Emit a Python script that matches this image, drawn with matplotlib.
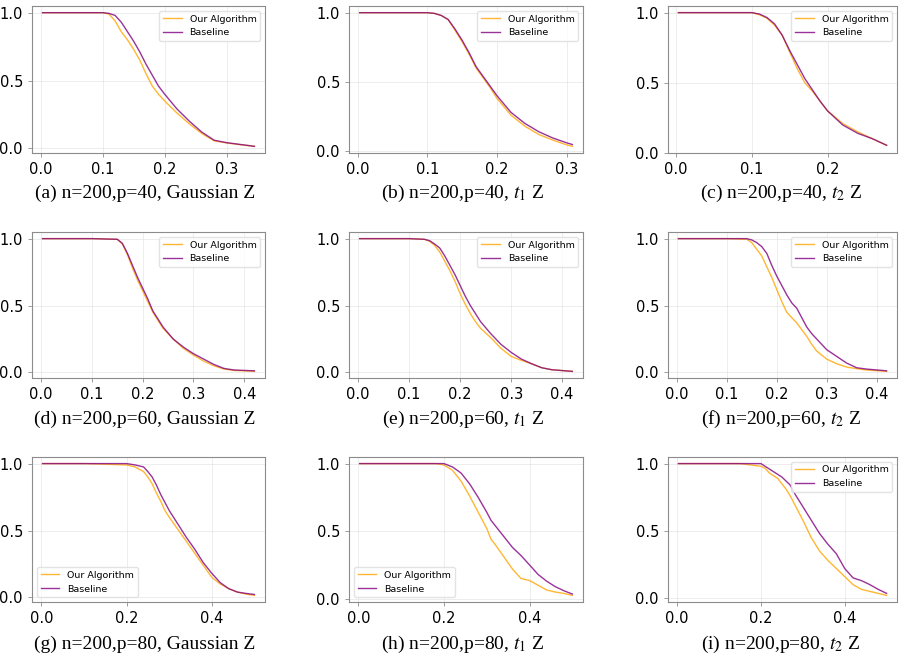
import matplotlib
matplotlib.use("Agg")
import matplotlib.pyplot as plt

# ---- data (x = threshold, y = proportion) ----
X_A = [0.003, 0.05, 0.10, 0.11, 0.12, 0.13, 0.14, 0.15, 0.16, 0.17, 0.18, 0.19, 0.20, 0.22, 0.24, 0.26, 0.28, 0.30, 0.32, 0.345]
OURS_A = [1, 1, 1, 0.99, 0.94, 0.86, 0.80, 0.73, 0.65, 0.55, 0.46, 0.40, 0.35, 0.26, 0.18, 0.11, 0.055, 0.04, 0.028, 0.015]
BASE_A = [1, 1, 1, 0.995, 0.98, 0.93, 0.86, 0.79, 0.71, 0.62, 0.54, 0.46, 0.40, 0.29, 0.20, 0.12, 0.06, 0.042, 0.03, 0.015]

X_B = [0.003, 0.05, 0.10, 0.11, 0.12, 0.13, 0.14, 0.15, 0.16, 0.17, 0.18, 0.19, 0.20, 0.22, 0.24, 0.26, 0.28, 0.30, 0.308]
OURS_B = [1, 1, 1, 0.995, 0.98, 0.95, 0.87, 0.79, 0.70, 0.60, 0.53, 0.46, 0.38, 0.26, 0.18, 0.12, 0.08, 0.045, 0.035]
BASE_B = [1, 1, 1, 0.995, 0.98, 0.95, 0.88, 0.80, 0.71, 0.61, 0.54, 0.47, 0.40, 0.28, 0.20, 0.14, 0.095, 0.06, 0.048]

X_C = [0.003, 0.05, 0.10, 0.11, 0.12, 0.13, 0.14, 0.15, 0.16, 0.17, 0.18, 0.19, 0.20, 0.22, 0.24, 0.26, 0.278]
OURS_C = [1, 1, 1, 0.985, 0.96, 0.91, 0.84, 0.72, 0.60, 0.50, 0.44, 0.37, 0.30, 0.21, 0.15, 0.10, 0.055]
BASE_C = [1, 1, 1, 0.99, 0.965, 0.92, 0.84, 0.73, 0.63, 0.53, 0.45, 0.37, 0.30, 0.20, 0.14, 0.10, 0.055]

X_D = [0.003, 0.05, 0.10, 0.15, 0.16, 0.17, 0.18, 0.19, 0.20, 0.21, 0.22, 0.23, 0.24, 0.26, 0.28, 0.30, 0.32, 0.34, 0.36, 0.38, 0.42]
OURS_D = [1, 1, 1, 0.995, 0.96, 0.88, 0.78, 0.69, 0.61, 0.53, 0.45, 0.39, 0.33, 0.25, 0.18, 0.13, 0.085, 0.05, 0.025, 0.015, 0.008]
BASE_D = [1, 1, 1, 0.995, 0.965, 0.89, 0.80, 0.71, 0.63, 0.55, 0.46, 0.40, 0.34, 0.25, 0.19, 0.14, 0.10, 0.06, 0.03, 0.018, 0.012]

X_E = [0.003, 0.05, 0.10, 0.13, 0.14, 0.15, 0.16, 0.17, 0.18, 0.19, 0.20, 0.21, 0.22, 0.23, 0.24, 0.26, 0.28, 0.30, 0.32, 0.34, 0.36, 0.38, 0.42]
OURS_E = [1, 1, 1, 0.995, 0.98, 0.95, 0.90, 0.83, 0.76, 0.68, 0.59, 0.51, 0.44, 0.38, 0.33, 0.26, 0.18, 0.12, 0.09, 0.065, 0.035, 0.02, 0.008]
BASE_E = [1, 1, 1, 0.995, 0.985, 0.96, 0.93, 0.87, 0.80, 0.73, 0.65, 0.57, 0.50, 0.44, 0.38, 0.29, 0.21, 0.15, 0.10, 0.065, 0.035, 0.02, 0.008]

X_F = [0.003, 0.05, 0.10, 0.14, 0.15, 0.16, 0.17, 0.18, 0.19, 0.20, 0.21, 0.22, 0.23, 0.24, 0.25, 0.26, 0.27, 0.28, 0.30, 0.32, 0.34, 0.36, 0.38, 0.42]
OURS_F = [1, 1, 1, 0.995, 0.97, 0.92, 0.87, 0.79, 0.71, 0.62, 0.53, 0.45, 0.41, 0.37, 0.32, 0.27, 0.21, 0.16, 0.10, 0.065, 0.04, 0.028, 0.018, 0.008]
BASE_F = [1, 1, 1, 1.0, 0.99, 0.97, 0.94, 0.89, 0.80, 0.72, 0.65, 0.58, 0.52, 0.48, 0.41, 0.34, 0.29, 0.25, 0.17, 0.12, 0.07, 0.035, 0.025, 0.012]

X_G = [0.003, 0.1, 0.2, 0.22, 0.24, 0.25, 0.26, 0.27, 0.28, 0.29, 0.30, 0.32, 0.34, 0.36, 0.38, 0.40, 0.42, 0.44, 0.46, 0.48, 0.5]
OURS_G = [1, 1, 0.99, 0.975, 0.94, 0.90, 0.85, 0.78, 0.72, 0.65, 0.60, 0.51, 0.42, 0.33, 0.24, 0.15, 0.10, 0.065, 0.04, 0.025, 0.015]
BASE_G = [1, 1, 1.0, 0.99, 0.975, 0.94, 0.90, 0.84, 0.77, 0.71, 0.65, 0.55, 0.45, 0.36, 0.26, 0.18, 0.11, 0.065, 0.04, 0.03, 0.022]

X_H = [0.003, 0.1, 0.18, 0.20, 0.22, 0.24, 0.26, 0.28, 0.30, 0.31, 0.32, 0.34, 0.36, 0.38, 0.40, 0.42, 0.44, 0.46, 0.48, 0.5]
OURS_H = [1, 1, 1, 0.99, 0.95, 0.87, 0.76, 0.64, 0.52, 0.44, 0.40, 0.31, 0.22, 0.15, 0.135, 0.10, 0.065, 0.05, 0.04, 0.025]
BASE_H = [1, 1, 1, 1.0, 0.975, 0.93, 0.85, 0.75, 0.64, 0.58, 0.54, 0.46, 0.38, 0.32, 0.25, 0.18, 0.13, 0.09, 0.06, 0.035]

X_I = [0.003, 0.1, 0.15, 0.20, 0.21, 0.22, 0.23, 0.24, 0.25, 0.26, 0.27, 0.28, 0.29, 0.30, 0.32, 0.34, 0.36, 0.38, 0.40, 0.42, 0.44, 0.46, 0.48, 0.5]
OURS_I = [1, 1, 1, 0.98, 0.965, 0.93, 0.91, 0.89, 0.85, 0.81, 0.76, 0.70, 0.64, 0.58, 0.45, 0.35, 0.28, 0.22, 0.16, 0.10, 0.065, 0.05, 0.035, 0.02]
BASE_I = [1, 1, 1, 1.0, 0.98, 0.96, 0.94, 0.92, 0.90, 0.87, 0.84, 0.78, 0.73, 0.68, 0.58, 0.48, 0.40, 0.33, 0.22, 0.15, 0.13, 0.10, 0.065, 0.035]

CAPTIONS = [
    "(a) n=200,p=40, Gaussian Z", "(b) n=200,p=40, $t_1$ Z", "(c) n=200,p=40, $t_2$ Z",
    "(d) n=200,p=60, Gaussian Z", "(e) n=200,p=60, $t_1$ Z", "(f) n=200,p=60, $t_2$ Z",
    "(g) n=200,p=80, Gaussian Z", "(h) n=200,p=80, $t_1$ Z", "(i) n=200,p=80, $t_2$ Z",
]
LEGEND_LOC = ["upper right"] * 6 + ["lower left", "lower left", "upper right"]

PANELS = [(X_A, OURS_A, BASE_A), (X_B, OURS_B, BASE_B), (X_C, OURS_C, BASE_C),
          (X_D, OURS_D, BASE_D), (X_E, OURS_E, BASE_E), (X_F, OURS_F, BASE_F),
          (X_G, OURS_G, BASE_G), (X_H, OURS_H, BASE_H), (X_I, OURS_I, BASE_I)]

# ---- layout in pixels ----
W, H = 908, 662
COLS = [(32, 265), (349, 583), (668, 897)]
ROWS = [(6, 153), (232, 378), (457, 602)]
CAP_X = [145, 463, 781]
CAP_Y = [193, 419, 644]

plt.rcParams.update({
    "font.family": "DejaVu Sans",
    "mathtext.fontset": "stix",
    "axes.edgecolor": "#8c8c8c",
    "xtick.color": "#8c8c8c", "ytick.color": "#8c8c8c",
    "xtick.labelcolor": "black", "ytick.labelcolor": "black",
})

fig = plt.figure(figsize=(W / 100, H / 100), dpi=100)

for k, (x, ours, base) in enumerate(PANELS):
    r, c = divmod(k, 3)
    l, rr = COLS[c]
    t, b = ROWS[r]
    ax = fig.add_axes([l / W, 1 - b / H, (rr - l) / W, (b - t) / H])
    ax.plot(x, ours, color="orange", alpha=0.8, lw=1.0, label="Our Algorithm")
    ax.plot(x, base, color="purple", alpha=0.8, lw=1.0, label="Baseline")
    ax.grid(True, color="#dddddd", lw=0.6, alpha=0.6)
    ax.set_yticks([0.0, 0.5, 1.0])
    if r == 2:
        ax.set_xticks([0.0, 0.2, 0.4])
    ax.tick_params(labelsize=10.5, width=0.6, length=3)
    for s in ax.spines.values():
        s.set_linewidth(0.8)
    ax.legend(loc=LEGEND_LOC[k], fontsize=6.8, framealpha=0.8, edgecolor="#dddddd")
    fig.text(CAP_X[c] / W, 1 - CAP_Y[r] / H, CAPTIONS[k], ha="center", va="center",
             fontsize=14, family="Liberation Serif")

fig.savefig("out.png", dpi=100)
